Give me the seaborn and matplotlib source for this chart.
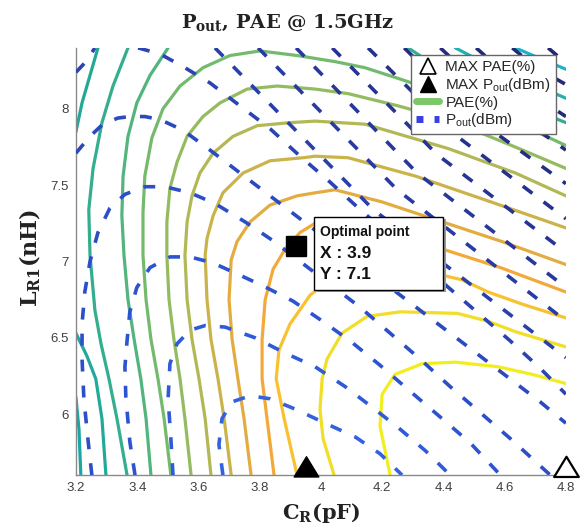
import matplotlib
matplotlib.use("Agg")
import matplotlib.pyplot as plt
from matplotlib.lines import Line2D
from matplotlib.path import Path
from matplotlib.patches import Rectangle
import pandas as pd
import seaborn as sns

sns.set_theme(style="white")
plt.rcParams["font.family"] = ["DejaVu Sans"]
plt.rcParams["mathtext.fontset"] = "dejavuserif"

# ---------------- axis ranges / ticks ----------------
x_range = (3.2, 4.8)
y_range = (5.6, 8.4)
x_ticks = [3.2, 3.4, 3.6, 3.8, 4.0, 4.2, 4.4, 4.6, 4.8]
x_tick_labels = ["3.2", "3.4", "3.6", "3.8", "4", "4.2", "4.4", "4.6", "4.8"]
y_ticks = [6, 6.5, 7, 7.5, 8]
y_tick_labels = ["6", "6.5", "7", "7.5", "8"]

# ---------------- PAE contour lines (C_R [pF], L_R1 [nH]) ----------------
pae_01 = [(3.200, 6.11), (3.210, 5.90), (3.216, 5.60)]
pae_02 = [(3.200, 6.53), (3.236, 6.38), (3.265, 6.23), (3.285, 5.97), (3.298, 5.60)]
pae_03 = [(3.370, 8.40), (3.321, 8.15), (3.285, 7.91), (3.256, 7.61), (3.242, 7.34), (3.246, 7.04),
          (3.262, 6.68), (3.282, 6.46), (3.308, 6.23), (3.334, 5.97), (3.367, 5.60)]
pae_04 = [(3.501, 8.40), (3.442, 8.22), (3.399, 8.04), (3.370, 7.82), (3.354, 7.56), (3.350, 7.30),
          (3.357, 7.04), (3.370, 6.75), (3.390, 6.49), (3.412, 6.23), (3.429, 5.97), (3.445, 5.60)]
pae_05 = [(4.800, 7.76), (4.651, 7.90), (4.488, 8.04), (4.357, 8.13), (4.252, 8.20), (4.144, 8.27),
          (4.046, 8.31), (3.922, 8.35), (3.801, 8.38), (3.703, 8.35), (3.615, 8.27), (3.540, 8.15),
          (3.484, 8.00), (3.448, 7.81), (3.425, 7.56), (3.419, 7.32), (3.419, 7.04), (3.429, 6.75),
          (3.445, 6.49), (3.468, 6.23), (3.488, 5.97), (3.510, 5.60)]
pae_06 = [(4.800, 7.61), (4.635, 7.75), (4.416, 7.93), (4.252, 8.02), (4.089, 8.10), (3.981, 8.13),
          (3.857, 8.15), (3.759, 8.13), (3.671, 8.04), (3.615, 7.95), (3.563, 7.82), (3.530, 7.65),
          (3.507, 7.48), (3.497, 7.26), (3.497, 7.04), (3.504, 6.75), (3.520, 6.49), (3.540, 6.23),
          (3.556, 5.97), (3.576, 5.60)]
pae_07 = [(4.800, 7.43), (4.635, 7.58), (4.416, 7.74), (4.144, 7.90), (3.981, 7.92), (3.899, 7.91),
          (3.792, 7.89), (3.713, 7.82), (3.648, 7.71), (3.605, 7.58), (3.579, 7.43), (3.563, 7.26),
          (3.556, 7.04), (3.563, 6.75), (3.579, 6.49), (3.602, 6.23), (3.622, 5.97), (3.641, 5.60)]
pae_08 = [(4.800, 7.22), (4.527, 7.41), (4.308, 7.56), (4.089, 7.68), (3.981, 7.69), (3.942, 7.68),
          (3.834, 7.66), (3.746, 7.58), (3.680, 7.45), (3.648, 7.30), (3.628, 7.15), (3.622, 7.04),
          (3.628, 6.75), (3.641, 6.49), (3.664, 6.23), (3.684, 5.97), (3.707, 5.60)]
pae_09 = [(4.800, 6.98), (4.592, 7.13), (4.396, 7.26), (4.200, 7.39), (4.046, 7.47), (3.981, 7.45),
          (3.922, 7.43), (3.834, 7.37), (3.769, 7.26), (3.726, 7.13), (3.707, 7.01), (3.700, 6.75),
          (3.710, 6.49), (3.729, 6.23), (3.749, 5.97), (3.772, 5.60)]
pae_10 = [(4.800, 6.80), (4.586, 6.96), (4.399, 7.08), (4.193, 7.22), (4.046, 7.28), (3.997, 7.27),
          (3.932, 7.19), (3.883, 7.08), (3.844, 6.95), (3.818, 6.75), (3.808, 6.49), (3.808, 6.23),
          (3.824, 5.97), (3.847, 5.60)]
pae_11 = [(4.800, 6.63), (4.658, 6.72), (4.546, 6.80), (4.461, 6.88), (4.396, 6.91), (4.259, 6.96),
          (4.128, 6.95), (4.030, 6.88), (3.965, 6.78), (3.899, 6.59), (3.863, 6.42), (3.854, 6.23),
          (3.880, 5.97), (3.922, 5.60)]
pae_12 = [(4.800, 6.44), (4.635, 6.54), (4.543, 6.61), (4.445, 6.66), (4.259, 6.67), (4.151, 6.64),
          (4.069, 6.53), (4.020, 6.36), (4.004, 6.23), (3.997, 6.03), (4.007, 5.84), (4.043, 5.60)]
pae_13 = [(4.800, 6.20), (4.690, 6.26), (4.579, 6.31), (4.439, 6.34), (4.331, 6.33), (4.242, 6.26),
          (4.200, 6.13), (4.193, 5.92), (4.226, 5.60)]
pae_tl = [(3.272, 8.40), (3.246, 8.22), (3.220, 8.04), (3.200, 7.85)]
pae_tr1 = [(4.285, 8.40), (4.390, 8.26), (4.520, 8.13), (4.651, 8.03), (4.800, 7.91)]
pae_tr2 = [(4.439, 8.40), (4.553, 8.28), (4.684, 8.17), (4.800, 8.07)]
pae_tr3 = [(4.635, 8.40), (4.716, 8.33), (4.800, 8.26)]

pae_lines = {
    "tl": pae_tl, "tr3": pae_tr3, "tr2": pae_tr2, "tr1": pae_tr1,
    "01": pae_01, "02": pae_02, "03": pae_03, "04": pae_04, "05": pae_05, "06": pae_06,
    "07": pae_07, "08": pae_08, "09": pae_09, "10": pae_10, "11": pae_11, "12": pae_12, "13": pae_13,
}
pae_colors = {
    "tl": "#22a897", "tr3": "#1ab6c8", "tr2": "#22b0b0", "tr1": "#33ae94",
    "01": "#19a7a6", "02": "#21aa9c", "03": "#33ae8e", "04": "#52b57e", "05": "#74ba6d",
    "06": "#94bb60", "07": "#b2b855", "08": "#cbb34b", "09": "#e3ac41", "10": "#f3a93a",
    "11": "#f8c12f", "12": "#f2dd27", "13": "#f2ee1e",
}

# ---------------- Pout contour lines ----------------
pout_f = [(3.680, 5.60), (3.667, 5.80), (3.677, 5.97), (3.710, 6.08), (3.769, 6.12), (3.834, 6.10),
          (3.919, 6.03), (4.014, 5.94), (4.112, 5.85), (4.193, 5.74), (4.265, 5.60)]
pout_e = [(3.517, 5.60), (3.510, 5.84), (3.501, 6.10), (3.507, 6.33), (3.530, 6.46), (3.573, 6.55),
          (3.622, 6.58), (3.687, 6.57), (3.785, 6.50), (3.883, 6.40), (3.981, 6.31), (4.079, 6.18),
          (4.177, 6.03), (4.259, 5.90), (4.341, 5.76), (4.422, 5.60)]
pout_d = [(3.393, 5.60), (3.376, 5.82), (3.363, 6.11), (3.360, 6.31), (3.367, 6.48), (3.376, 6.67),
          (3.399, 6.83), (3.442, 6.96), (3.507, 7.03), (3.573, 7.03), (3.648, 6.99), (3.736, 6.91),
          (3.821, 6.83), (3.909, 6.74), (3.997, 6.62), (4.095, 6.48), (4.193, 6.32), (4.291, 6.15),
          (4.390, 5.98), (4.488, 5.81), (4.586, 5.60)]
pout_c = [(3.252, 5.60), (3.239, 5.84), (3.226, 6.10), (3.220, 6.36), (3.220, 6.59), (3.229, 6.80),
          (3.246, 7.00), (3.272, 7.19), (3.311, 7.35), (3.360, 7.44), (3.425, 7.49), (3.491, 7.49),
          (3.573, 7.45), (3.654, 7.38), (3.752, 7.26), (3.841, 7.14), (3.932, 7.00), (4.030, 6.85),
          (4.128, 6.70), (4.226, 6.53), (4.324, 6.36), (4.422, 6.18), (4.520, 6.01), (4.618, 5.84),
          (4.749, 5.60)]
pout_a = [(3.200, 7.71), (3.246, 7.82), (3.288, 7.90), (3.337, 7.94), (3.376, 7.95), (3.425, 7.95),
          (3.475, 7.93), (3.550, 7.86), (3.638, 7.73), (3.736, 7.58), (3.834, 7.43), (3.932, 7.28),
          (4.030, 7.13), (4.128, 6.98), (4.226, 6.83), (4.324, 6.68), (4.422, 6.53), (4.520, 6.38),
          (4.618, 6.23), (4.716, 6.08), (4.800, 5.94)]
pout_b_left = [(3.200, 8.24), (3.233, 8.31), (3.262, 8.40)]
pout_b = [(3.403, 8.40), (3.475, 8.36), (3.556, 8.27), (3.638, 8.17), (3.736, 8.02), (3.834, 7.87),
          (3.932, 7.69), (4.030, 7.52), (4.128, 7.34), (4.226, 7.17), (4.324, 6.99), (4.422, 6.82),
          (4.520, 6.65), (4.618, 6.48), (4.716, 6.30), (4.800, 6.13)]
pout_t1 = [(3.654, 8.40), (4.171, 7.34), (4.800, 6.37)]
pout_t2 = [(3.795, 8.40), (4.249, 7.47), (4.800, 6.61)]
pout_t3 = [(3.919, 8.40), (4.314, 7.58), (4.800, 6.83)]
pout_t4 = [(4.037, 8.40), (4.380, 7.70), (4.800, 7.06)]
pout_t5 = [(4.154, 8.40), (4.445, 7.82), (4.800, 7.28)]
pout_t6 = [(4.272, 8.40), (4.510, 7.93), (4.800, 7.51)]
pout_t7 = [(4.390, 8.40), (4.576, 8.05), (4.800, 7.73)]
pout_t8 = [(4.507, 8.40), (4.641, 8.16), (4.800, 7.95)]
pout_t9 = [(4.625, 8.40), (4.703, 8.27), (4.800, 8.16)]
pout_t10 = [(4.742, 8.40), (4.800, 8.30)]

pout_lines = {
    "f": pout_f, "e": pout_e, "d": pout_d, "c": pout_c, "a": pout_a, "bl": pout_b_left, "b": pout_b,
    "t1": pout_t1, "t2": pout_t2, "t3": pout_t3, "t4": pout_t4, "t5": pout_t5,
    "t6": pout_t6, "t7": pout_t7, "t8": pout_t8, "t9": pout_t9, "t10": pout_t10,
}
pout_colors = {
    "f": "#3361e0", "e": "#2f5ad9", "d": "#2d54d0", "c": "#2c4fc8", "a": "#2b4abf",
    "bl": "#2a44b5", "b": "#2a44b5", "t1": "#293fab", "t2": "#283ba2", "t3": "#27379a",
    "t4": "#263492", "t5": "#26318b", "t6": "#252e85", "t7": "#252c80", "t8": "#24297a",
    "t9": "#242876", "t10": "#232673",
}

# ---------------- special points ----------------
max_pae_point = (4.80, 5.60)
max_pout_point = (3.95, 5.60)
optimal_point = (3.92, 7.10)


def to_frame(lines):
    rows = []
    for name, pts in lines.items():
        for i, (x, y) in enumerate(pts):
            rows.append({"seg": name, "order": i, "x": x, "y": y})
    return pd.DataFrame(rows)


pae_df = to_frame(pae_lines)
pout_df = to_frame(pout_lines)

fig = plt.figure(figsize=(5.84, 5.32), dpi=100)
ax = fig.add_axes([0.130, 0.107, 0.839, 0.803])

sns.lineplot(data=pae_df, x="x", y="y", hue="seg", units="seg", estimator=None, sort=False,
             palette=pae_colors, legend=False, linewidth=2.3, ax=ax, zorder=2)
sns.lineplot(data=pout_df, x="x", y="y", hue="seg", units="seg", estimator=None, sort=False,
             palette=pout_colors, legend=False, linewidth=2.6, linestyle=(0, (3.3, 3.9)),
             ax=ax, zorder=3)

# triangle markers sitting on the bottom edge
tri = Path([(-1.25, -0.15), (1.25, -0.15), (0.0, 1.9), (-1.25, -0.15)],
           [Path.MOVETO, Path.LINETO, Path.LINETO, Path.CLOSEPOLY])
ax.plot([max_pout_point[0]], [max_pout_point[1]], marker=tri, markersize=27, color="black",
        linestyle="none", clip_on=False, zorder=6)
ax.plot([max_pae_point[0]], [max_pae_point[1]], marker=tri, markersize=27, markerfacecolor="white",
        markeredgecolor="black", markeredgewidth=1.6, linestyle="none", clip_on=False, zorder=6)

# optimal point + data tip
tip_font = ["Liberation Sans", "DejaVu Sans"]
ax.plot([optimal_point[0]], [optimal_point[1]], marker="s", markersize=14, color="black",
        linestyle="none", zorder=6)
ax.add_patch(Rectangle((3.986, 6.80), 0.421, 0.476, facecolor="#9a9a9a", edgecolor="none", zorder=6))
ax.add_patch(Rectangle((3.978, 6.814), 0.421, 0.476, facecolor="white", edgecolor="black",
                       linewidth=1.0, zorder=7))
ax.text(3.997, 7.19, "Optimal point", fontsize=10, fontweight="bold", family=tip_font,
        va="center", ha="left", zorder=8, color="#111")
ax.text(3.997, 7.05, f"X : {optimal_point[0]:.1f}", fontsize=12.5, fontweight="bold",
        family=tip_font, va="center", ha="left", zorder=8, color="#111")
ax.text(3.997, 6.915, f"Y : {optimal_point[1]:.1f}", fontsize=12.5, fontweight="bold",
        family=tip_font, va="center", ha="left", zorder=8, color="#111")

ax.set_xlim(*x_range)
ax.set_ylim(*y_range)
ax.set_xticks(x_ticks)
ax.set_xticklabels(x_tick_labels)
ax.set_yticks(y_ticks)
ax.set_yticklabels(y_tick_labels)
ax.set_xlabel("")
ax.set_ylabel("")
for side in ["top", "right"]:
    ax.spines[side].set_visible(False)
for side in ["left", "bottom"]:
    ax.spines[side].set_color("#8a8a8a")
    ax.spines[side].set_linewidth(1.0)
ax.tick_params(direction="in", length=4, width=0.8, color="#8a8a8a", labelcolor="#404040",
               labelsize=9.5, pad=5)
for lab in ax.get_xticklabels() + ax.get_yticklabels():
    lab.set_family(["Liberation Sans", "DejaVu Sans"])

# legend
handles = [
    Line2D([], [], marker="^", linestyle="none", markerfacecolor="white", markeredgecolor="black",
           markersize=11, markeredgewidth=1.2),
    Line2D([], [], marker="^", linestyle="none", color="black", markersize=11),
    Line2D([], [], color="#7dc76a", linewidth=5),
    Line2D([], [], color="#3a3ee6", linewidth=5, linestyle=(0, (1.0, 1.6))),
]
labels = ["MAX PAE(%)", r"MAX P$_{\mathregular{out}}$(dBm)", "PAE(%)", r"P$_{\mathregular{out}}$(dBm)"]
leg = ax.legend(handles, labels, loc="upper right", bbox_to_anchor=(0.98, 0.983), frameon=True,
                fancybox=False, framealpha=1.0, edgecolor="#666666",
                handlelength=1.5, handletextpad=0.4, labelspacing=0.1, borderpad=0.35,
                borderaxespad=0.0, prop={"family": ["Liberation Sans", "DejaVu Sans"], "size": 11})
leg.get_frame().set_linewidth(1.0)
leg.set_zorder(9)

# titles / labels
fig.text(0.492, 0.957, r"$\mathbf{P_{out}}$, PAE @ 1.5GHz", ha="center", va="center",
         fontsize=14, fontweight="bold", family="DejaVu Serif", color="#222")
fig.text(0.550, 0.036, r"$\mathbf{C_{R}}$(pF)", ha="center", va="center",
         fontsize=15, fontweight="bold", family="DejaVu Serif", color="#222")
fig.text(0.052, 0.515, r"$\mathbf{L_{R1}}$(nH)", ha="center", va="center", rotation=90,
         fontsize=16, fontweight="bold", family="DejaVu Serif", color="#222")

fig.savefig("out.png", dpi=100, facecolor="white")
